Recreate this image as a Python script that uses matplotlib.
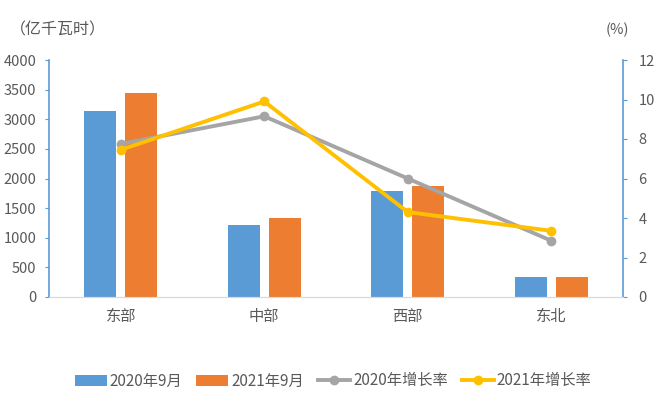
import numpy as np
import matplotlib.pyplot as plt

plt.rcParams['font.family'] = ['Noto Sans CJK SC', 'DejaVu Sans']

regions = ['东部', '中部', '西部', '东北']
use_2020 = [3140, 1210, 1790, 335]
use_2021 = [3440, 1330, 1870, 345]
growth_2020 = [7.75, 9.15, 6.0, 2.85]
growth_2021 = [7.45, 9.9, 4.3, 3.35]

blue = '#5b9bd5'
orange = '#ed7d31'
gray = '#a5a5a5'
yellow = '#ffc000'
txt = '#595959'

fig = plt.figure(figsize=(6.6, 3.97), dpi=100)
ax = fig.add_axes([49/660, 1-297/397, 574/660, 237/397])
ax2 = ax.twinx()

x = np.arange(len(regions))
w = 0.22
ax.bar(x - 0.143, use_2020, w, color=blue, label='2020年9月')
ax.bar(x + 0.143, use_2021, w, color=orange, label='2021年9月')
ax2.plot(x, growth_2020, color=gray, lw=2.8, marker='o', ms=6, label='2020年增长率')
ax2.plot(x, growth_2021, color=yellow, lw=2.8, marker='o', ms=6, label='2021年增长率')

ax.set_xlim(-0.5, 3.5)
ax.set_ylim(0, 4000)
ax.set_yticks(range(0, 4001, 500))
ax2.set_ylim(0, 12)
ax2.set_yticks(range(0, 13, 2))
ax.set_xticks(x)
ax.set_xticklabels(regions)

for a in (ax, ax2):
    a.spines['top'].set_visible(False)
    a.tick_params(colors=txt, labelsize=10.5, length=0)
ax.spines['right'].set_visible(False)
ax2.spines['left'].set_color(blue)
ax2.spines['right'].set_color(blue)
ax2.spines['left'].set_linewidth(1.2)
ax2.spines['right'].set_linewidth(1.2)
ax2.spines['bottom'].set_color('#d9d9d9')
ax.spines['left'].set_visible(False)
ax.spines['bottom'].set_color('#d9d9d9')
ax.tick_params(axis='y', left=True, length=3, color=blue, pad=6)
ax2.tick_params(axis='y', right=True, length=3, color=blue, pad=8)
ax.tick_params(axis='x', pad=8, labelsize=11)

fig.text(10/660, 1-30/397, '（亿千瓦时）', color=txt, fontsize=11.5, va='center', ha='left')
fig.text(617/660, 1-30/397, '(%)', color=txt, fontsize=10.5, va='center', ha='center')

h1, l1 = ax.get_legend_handles_labels()
h2, l2 = ax2.get_legend_handles_labels()
fig.legend(h1 + h2, l1 + l2, loc='center', bbox_to_anchor=(333/660, 1-381/397), ncol=4,
           frameon=False, fontsize=11, labelcolor=txt, handlelength=2.1,
           handletextpad=0.2, columnspacing=0.9)

fig.savefig('out.png', dpi=100)
